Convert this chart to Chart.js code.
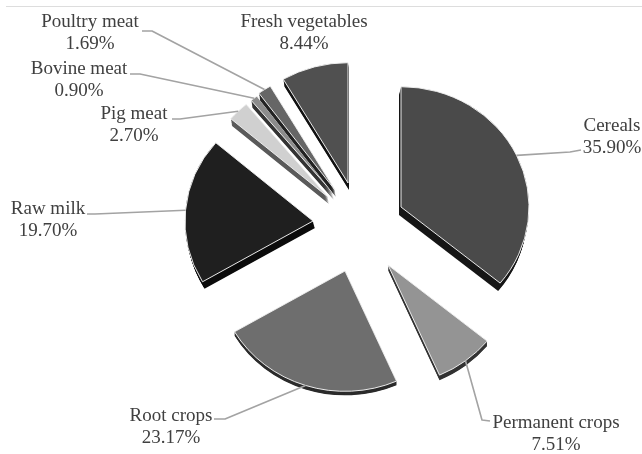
<!DOCTYPE html>
<html><head><meta charset="utf-8">
<script src="https://cdn.jsdelivr.net/npm/chart.js@4"></script>
<style>html,body{margin:0;padding:0;background:#fff}canvas{display:block;filter:blur(0.35px)}</style>
</head><body>
<canvas id="c" width="642" height="454"></canvas>
<script>
const categories = ["Cereals","Permanent crops","Root crops","Raw milk","Pig meat","Bovine meat","Poultry meat","Fresh vegetables"];
const shares = [35.90,7.51,23.17,19.70,2.70,0.90,1.69,8.44];
const faceColors = ["#4a4a4a","#949494","#6e6e6e","#1f1f1f","#d0d0d0","#8c8c8c","#666666","#505050"];
const sideColors = ["#161616","#333333","#2c2c2c","#0c0c0c","#5a5a5a","#333333","#222222","#121212"];
const explodeShift = [[47,-21],[34,37],[-9,43],[-41,-7],[-26,-31],[-21,-35],[-19,-38],[-6,-45]];
const sideShift = [[-2,8],[0,5],[0,4],[2,7],[1,7],[1,7],[1,7],[1,7]];
const labelCenters = [[612,126],[556,423],[171,416],[48,209],[134,114],[79,69],[90,22],[304,22]];
const leaderKnees = [[[581,150],[570,152]],[[490,421],[482,420]],[[214,419],[225,419]],[[87,214],[95,214]],[[172,119],[180,119]],[[130,74],[140,74]],[[142,31],[152,31]],null];
const squash = 0.94;

const explodedPie = {
  id:'explodedPie',
  beforeDraw(chart){
    const c = chart.ctx;
    c.save(); c.strokeStyle='#dddddd'; c.lineWidth=1;
    c.beginPath(); c.moveTo(6,6.5); c.lineTo(642,6.5); c.stroke(); c.restore();
  },
  beforeDatasetDraw(chart,args){
    const c = chart.ctx, arcs = args.meta.data;
    const place = (arc,i,f)=>{
      c.translate(arc.x+explodeShift[i][0]+sideShift[i][0]*f, arc.y+explodeShift[i][1]+sideShift[i][1]*f);
      c.scale(1,squash);
      c.translate(-arc.x,-arc.y);
    };
    arcs.forEach((arc,i)=>{
      const saved = arc.options;
      arc.options = Object.assign({},saved,{backgroundColor:sideColors[i],borderWidth:0});
      for(let s=8;s>=1;s--){ c.save(); place(arc,i,s/8); arc.draw(c); c.restore(); }
      arc.options = saved;
      c.save(); place(arc,i,0); arc.draw(c); c.restore();
    });
    return false;
  },
  afterDatasetsDraw(chart){
    const c = chart.ctx, arcs = chart.getDatasetMeta(0).data;
    c.save();
    c.strokeStyle='#a3a3a3'; c.lineWidth=1.6; c.lineJoin='round';
    arcs.forEach((arc,i)=>{
      const k = leaderKnees[i]; if(!k) return;
      const mid = (arc.startAngle+arc.endAngle)/2, r = arc.outerRadius;
      const ex = arc.x+explodeShift[i][0]+Math.cos(mid)*r, ey = arc.y+explodeShift[i][1]+Math.sin(mid)*r*squash;
      c.beginPath(); c.moveTo(k[0][0],k[0][1]); c.lineTo(k[1][0],k[1][1]); c.lineTo(ex,ey); c.stroke();
    });
    c.fillStyle='#404040'; c.font='19px "Liberation Serif"'; c.textAlign='center'; c.textBaseline='middle';
    categories.forEach((name,i)=>{
      const [x,y] = labelCenters[i];
      c.fillText(name,x,y);
      c.fillText(shares[i].toFixed(2)+'%',x,y+22);
    });
    c.restore();
  }
};

new Chart(document.getElementById('c'),{
  type:'pie',
  data:{labels:categories,datasets:[{data:shares,backgroundColor:faceColors,borderColor:'#eeeeee',borderWidth:1}]},
  options:{
    responsive:false,animation:false,radius:128,
    layout:{padding:{left:66,right:0,top:2,bottom:0}},
    plugins:{legend:{display:false},tooltip:{enabled:false}}
  },
  plugins:[explodedPie]
});
</script>
</body></html>
